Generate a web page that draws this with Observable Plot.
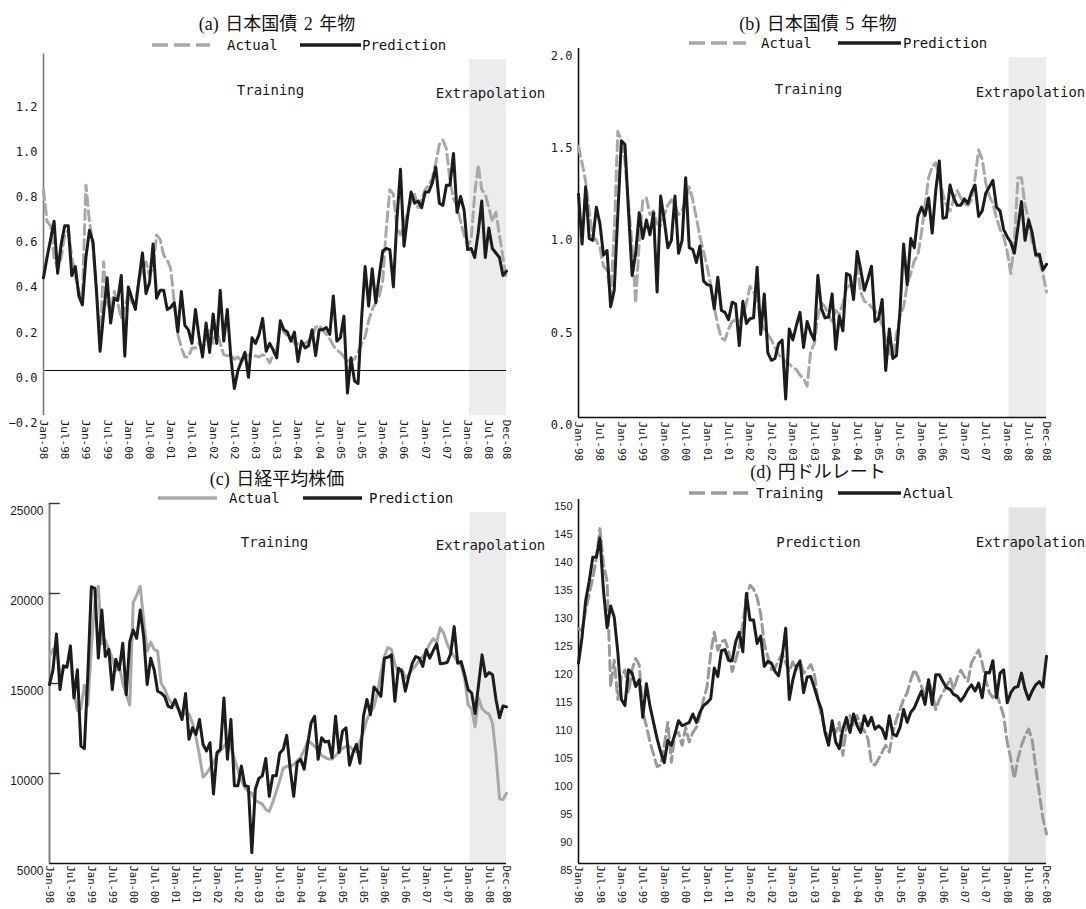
<!DOCTYPE html>
<html><head><meta charset="utf-8">
<script src="https://cdn.jsdelivr.net/npm/d3@7"></script>
<script src="https://cdn.jsdelivr.net/npm/@observablehq/plot@0.6"></script>
<style>
body{margin:0;background:#fff;}
#root{position:relative;width:1086px;height:909px;overflow:hidden;background:#fff;}
.title{position:absolute;transform:translate(-50%,-50%);white-space:nowrap;font-family:"Liberation Serif","Noto Sans CJK JP",serif;font-size:18px;color:#111;word-spacing:2px;}
.leg{position:absolute;font-family:"DejaVu Sans Mono",monospace;font-size:14px;color:#111;transform:translateY(-50%);white-space:nowrap;line-height:1;}
</style></head><body><div id="root"></div>
<script>
// ---------- data ----------
const xTickMonths = [0,6,12,18,24,30,36,42,48,54,60,66,72,78,84,90,96,102,108,114,120,126,131];
const xTickLabels = ["Jan-98","Jul-98","Jan-99","Jul-99","Jan-00","Jul-00","Jan-01","Jul-01","Jan-02","Jul-02","Jan-03","Jul-03","Jan-04","Jul-04","Jan-05","Jul-05","Jan-06","Jul-06","Jan-07","Jul-07","Jan-08","Jul-08","Dec-08"];
const extrapolationStart = 120.5;
const lastMonth = 131;

const jgb2Ticks = [-0.2,0,0.2,0.4,0.6,0.8,1.0,1.2];
const jgb5Ticks = [0,0.5,1.0,1.5,2.0];
const nikkeiTicks = [5000,10000,15000,20000,25000];
const usdjpyTicks = [85,90,95,100,105,110,115,120,125,130,135,140,145,150];

const jgb2Actual = [
0.80,0.66,0.64,0.50,0.45,0.50,0.60,0.62,0.50,0.42,
0.35,0.32,0.82,0.66,0.55,0.35,0.12,0.48,0.30,0.26,
0.35,0.30,0.23,0.28,0.34,0.30,0.30,0.40,0.45,0.48,
0.42,0.46,0.60,0.58,0.51,0.49,0.45,0.30,0.16,0.10,
0.06,0.06,0.10,0.10,0.12,0.10,0.13,0.18,0.12,0.18,
0.12,0.07,0.065,0.07,0.05,0.06,0.04,0.06,0.07,0.06,
0.065,0.06,0.07,0.06,0.034,0.07,0.10,0.20,0.17,0.15,
0.14,0.12,0.12,0.11,0.12,0.13,0.15,0.19,0.20,0.18,
0.16,0.14,0.11,0.09,0.08,0.06,0.04,0.05,0.05,0.08,
0.12,0.15,0.22,0.27,0.30,0.33,0.40,0.63,0.80,0.78,
0.63,0.60,0.64,0.70,0.75,0.78,0.72,0.76,0.80,0.82,
0.85,0.92,1.00,1.02,0.98,0.84,0.76,0.73,0.66,0.60,
0.55,0.58,0.78,0.91,0.80,0.78,0.72,0.66,0.70,0.60,
0.50,0.40];
const jgb2Prediction = [
0.41,0.50,0.58,0.66,0.43,0.56,0.64,0.64,0.42,0.46,
0.33,0.29,0.50,0.62,0.57,0.35,0.085,0.25,0.41,0.21,
0.32,0.31,0.42,0.063,0.37,0.32,0.27,0.40,0.52,0.34,
0.39,0.56,0.32,0.355,0.355,0.27,0.28,0.30,0.17,0.35,
0.20,0.18,0.12,0.27,0.15,0.06,0.21,0.08,0.25,0.12,
0.355,0.13,0.27,0.06,-0.08,0.0,0.04,0.08,-0.03,0.145,
0.12,0.16,0.23,0.085,0.12,0.09,0.056,0.22,0.18,0.17,
0.13,0.17,0.04,0.13,0.10,0.11,0.18,0.066,0.18,0.18,
0.19,0.16,0.33,0.13,0.145,0.24,-0.10,0.056,-0.047,-0.058,
0.23,0.46,0.285,0.45,0.30,0.42,0.53,0.54,0.535,0.37,
0.67,0.89,0.55,0.68,0.79,0.74,0.75,0.72,0.79,0.79,
0.83,0.90,0.74,0.73,0.82,0.82,0.96,0.70,0.77,0.71,
0.535,0.54,0.50,0.61,0.75,0.50,0.63,0.54,0.52,0.50,
0.42,0.44];

const jgb5Actual = [
1.47,1.38,1.28,1.12,0.98,0.96,0.92,0.82,0.80,0.66,
1.00,1.55,1.50,1.39,1.15,0.94,0.62,0.95,1.18,1.19,
1.10,1.12,1.05,1.04,1.10,1.15,1.18,1.15,1.10,1.12,
1.18,1.25,1.18,1.08,0.98,0.90,0.82,0.72,0.60,0.50,
0.43,0.42,0.48,0.52,0.53,0.52,0.55,0.62,0.71,0.68,
0.65,0.52,0.48,0.45,0.42,0.38,0.34,0.32,0.30,0.29,
0.27,0.26,0.23,0.21,0.17,0.36,0.40,0.55,0.62,0.60,
0.55,0.52,0.58,0.56,0.62,0.70,0.72,0.73,0.82,0.68,
0.63,0.62,0.60,0.58,0.55,0.50,0.42,0.35,0.33,0.45,
0.55,0.60,0.72,0.78,0.85,0.88,1.00,1.15,1.30,1.36,
1.38,1.30,1.21,1.15,1.12,1.18,1.23,1.19,1.16,1.15,
1.18,1.30,1.45,1.40,1.27,1.20,1.16,1.08,1.02,0.98,
0.90,0.78,0.95,1.30,1.30,1.15,1.07,0.95,0.90,0.85,
0.78,0.68];
const jgb5Prediction = [
1.21,0.94,1.25,0.97,0.96,1.14,1.05,0.88,0.905,0.60,
0.69,1.10,1.50,1.48,1.12,0.77,0.89,1.11,0.97,1.07,
0.99,1.11,0.68,1.20,1.07,0.92,0.96,1.20,0.89,0.96,
1.30,0.92,0.91,0.84,0.93,0.74,0.72,0.715,0.59,0.76,
0.58,0.57,0.53,0.625,0.615,0.39,0.63,0.51,0.535,0.54,
0.815,0.45,0.67,0.35,0.31,0.32,0.40,0.42,0.10,0.48,
0.42,0.50,0.57,0.38,0.52,0.46,0.42,0.77,0.59,0.54,
0.544,0.67,0.37,0.55,0.47,0.78,0.77,0.64,0.90,0.80,
0.69,0.75,0.82,0.52,0.535,0.64,0.255,0.48,0.32,0.336,
0.58,0.94,0.72,0.97,0.92,1.09,1.14,1.095,1.19,1.00,
1.23,1.39,1.08,1.085,1.26,1.19,1.15,1.15,1.185,1.16,
1.22,1.26,1.09,1.12,1.215,1.25,1.285,1.14,1.12,1.02,
0.98,0.95,0.89,1.03,1.17,0.96,1.07,1.00,0.88,0.885,
0.80,0.83];

const nikkeiActual = [
16500,16900,17000,15500,15800,16000,16600,14500,13500,13600,
14900,13800,17000,19500,20400,17200,17400,16900,16400,15700,
16000,15000,14400,13800,19500,19900,20400,18500,16800,17300,
16900,16800,15000,14700,14200,13900,13800,13600,13300,13300,
13300,12800,12000,11000,9800,10000,10300,10600,11000,11300,
11500,11800,11500,10800,10200,9600,9200,9000,8900,8500,
8400,8300,8000,7900,8400,9000,9600,10300,10400,10400,
10500,10700,10900,11300,11800,11700,11500,11300,11000,10900,
10800,10800,11000,11200,11400,11500,11500,11300,11200,11800,
12300,13000,13400,13700,14500,15600,16500,17000,16900,16100,
15600,15800,15300,15500,15800,16000,16300,16500,16800,17200,
17500,17300,18100,17800,17200,16800,16500,16200,16000,15300,
13800,13600,12600,14200,13600,13400,13300,12800,11000,8600,
8550,8900];
const nikkeiPrediction = [
14940,15760,17750,14660,15980,15910,17090,14200,15760,11530,
11380,15580,20370,20280,16410,19080,16500,16900,14660,16350,
15760,17240,14380,17330,17970,17510,19080,17600,14940,16410,
15760,14570,14470,14290,13740,13650,14110,13560,13000,14440,
11900,12540,12170,13000,11620,11250,11710,8860,11160,11340,
14200,10790,13000,9320,9320,10420,9320,9280,5600,9130,
9720,9870,10830,8730,9870,9870,11120,11340,12120,10240,
8730,10610,10790,10240,11620,12820,13180,10790,11990,11750,
11800,10880,13180,11160,12360,12540,10460,11160,11620,10570,
13180,14110,13270,14810,14570,14290,16410,16460,16590,14010,
15850,15670,14570,15390,16130,16500,16410,15950,16870,16410,
16830,17200,16100,16130,16170,16650,18160,16130,16220,15490,
14660,14470,13330,14940,16590,15390,15610,15490,14100,13100,
13750,13700];

const usdjpyTraining = [
126.9,126.6,130.2,133.1,136.0,139.5,144.8,138.4,135.4,116.6,
121.3,114.3,118.4,119.6,115.5,119.6,121.6,120.5,112.0,109.6,
106.7,104.5,102.3,102.6,106.1,110.2,103.1,108.1,108.4,106.1,
109.3,106.7,108.4,109.3,111.4,114.3,116.6,122.5,126.3,123.1,
124.6,124.9,123.1,119.3,121.3,123.7,127.8,132.5,134.7,134.0,
132.5,129.6,124.3,121.9,119.6,119.9,121.3,122.5,120.8,119.3,
121.0,119.6,121.3,119.0,119.6,120.5,119.0,114.3,111.4,109.0,
107.3,109.0,108.4,110.2,104.3,109.6,111.4,109.6,111.4,109.6,
108.7,107.3,102.9,102.6,103.7,104.9,106.1,104.9,108.4,110.8,
112.5,114.3,115.5,117.8,119.6,118.4,116.6,115.2,117.8,115.5,
112.5,114.3,115.5,116.6,118.1,116.1,118.1,119.5,118.4,117.5,
120.8,122.0,123.1,120.8,117.8,115.5,114.6,115.5,113.4,111.4,
106.7,103.7,100.2,103.7,106.1,107.8,109.0,107.0,102.0,97.5,
93.0,90.3];
const usdjpyActual = [
120.8,125.5,131.9,135.4,139.7,139.7,143.1,133.7,127.1,131.0,
129.0,122.8,114.3,113.2,119.6,119.0,116.6,117.8,111.1,117.1,
113.1,110.2,107.3,104.9,103.0,107.0,106.1,108.1,110.5,109.6,
109.9,110.2,111.7,110.2,112.0,113.2,113.7,114.4,119.9,118.4,
123.0,123.2,121.3,121.2,124.6,126.3,122.8,133.2,128.5,128.5,
124.3,125.6,120.2,121.1,120.8,119.3,118.5,121.9,127.0,114.3,
117.8,120.2,121.1,115.5,118.3,118.4,116.4,114.3,112.5,108.4,
106.1,110.5,106.7,105.5,109.0,111.1,108.4,111.7,109.6,108.4,
111.4,109.6,111.1,109.0,109.6,109.0,107.3,111.4,108.1,107.8,
109.3,112.5,110.2,112.0,112.8,114.3,115.8,113.4,117.8,113.4,
118.7,118.7,117.5,116.4,116.1,115.2,114.9,114.0,114.9,116.1,
116.9,115.8,117.2,114.6,119.1,119.0,121.2,114.6,119.0,119.6,
113.7,115.5,116.4,116.6,119.0,116.1,114.3,115.8,116.9,117.5,
116.5,122.0];

// ---------- styles ----------
const MONO = "DejaVu Sans Mono, Liberation Mono, monospace";
const SANS = "Liberation Sans, Arial, sans-serif";
const BLACK = "#1c1c1c";
const GRAY = "#a8a8a8";

const panels = [
  { title:"(a) 日本国債 2 年物", tx:277, ty:22,
    legendY:45, legend:[{x1:152,x2:210,color:GRAY,dash:"16,6",label:"Actual",lx:227},{x1:300,x2:361,color:BLACK,label:"Prediction",lx:362}],
    series:[{values:jgb2Actual,color:GRAY,dash:"10,5"},{values:jgb2Prediction,color:BLACK}],
    box:{left:0,top:48,width:543,height:422,ml:43,mr:37,mt:5.6,mb:54.8},
    yDomain:[-0.2,1.4], yTicks:jgb2Ticks, yFormat:d3.format(".1f"), yFont:MONO, yFontSize:12,
    xFontSize:11, xPad:4,
    shadeTop:1.376, shadeFill:"#ececec", axisColor:"#7a7a7a", axisWidth:1.6, zeroLine:true, bottomAxis:false,
    notes:[{text:"Training",dx:227,dy:36.4},{text:"Extrapolation",dx:447,dy:39.4}] },
  { title:"(b) 日本国債 5 年物", tx:818, ty:22,
    legendY:43, legend:[{x1:689,x2:746,color:GRAY,dash:"16,6",label:"Actual",lx:761},{x1:838,x2:901,color:BLACK,label:"Prediction",lx:903}],
    series:[{values:jgb5Actual,color:GRAY,dash:"10,5"},{values:jgb5Prediction,color:BLACK}],
    box:{left:543,top:40,width:543,height:430,ml:35,mr:40,mt:8,mb:53},
    yDomain:[0,2], yTicks:jgb5Ticks, yFormat:d3.format(".1f"), yFont:MONO, yFontSize:12,
    xFontSize:11, xPad:4,
    shadeTop:1.95, shadeFill:"#ececec", axisColor:"#111", axisWidth:1.6, zeroLine:false, bottomAxis:true,
    notes:[{text:"Training",dx:230,dy:41},{text:"Extrapolation",dx:452,dy:44}] },
  { title:"(c) 日経平均株価", tx:277, ty:477,
    legendY:498, legend:[{x1:158,x2:217,color:GRAY,label:"Actual",lx:229},{x1:303,x2:362,color:BLACK,label:"Prediction",lx:369}],
    series:[{values:nikkeiActual,color:GRAY},{values:nikkeiPrediction,color:BLACK}],
    box:{left:0,top:495,width:543,height:414,ml:49,mr:37,mt:8,mb:46},
    yDomain:[5000,25000], yTicks:nikkeiTicks, yFormat:d3.format("d"), yFont:SANS, yFontSize:12,
    xFontSize:10.5, xPad:2,
    shadeTop:24500, shadeFill:"#ececec", axisColor:"#808080", axisWidth:2, zeroLine:false, bottomAxis:true,
    innerTicks:[10000,15000,20000,25000],
    notes:[{text:"Training",dx:225,dy:39},{text:"Extrapolation",dx:441,dy:42}] },
  { title:"(d) 円ドルレート", tx:818, ty:470,
    legendY:493, legend:[{x1:689,x2:748,color:"#9a9a9a",dash:"16,6",label:"Training",lx:756},{x1:838,x2:901,color:BLACK,label:"Actual",lx:903}],
    series:[{values:usdjpyTraining,color:"#9a9a9a",dash:"10,5"},{values:usdjpyActual,color:BLACK}],
    box:{left:543,top:490,width:543,height:419,ml:35,mr:40,mt:9,mb:46},
    yDomain:[85,150], yTicks:usdjpyTicks, yFormat:d3.format("d"), yFont:SANS, yFontSize:11,
    xFontSize:10.5, xPad:2,
    shadeTop:148.5, shadeFill:"#e3e3e3", axisColor:"#111", axisWidth:1.6, zeroLine:false, bottomAxis:true,
    notes:[{text:"Prediction",dx:240,dy:43},{text:"Extrapolation",dx:452,dy:43}] }
];

const root = document.getElementById("root");
const NS = "http://www.w3.org/2000/svg";

function addTitle(p){
  const d = document.createElement("div");
  d.className = "title";
  d.style.left = p.tx + "px"; d.style.top = p.ty + "px";
  d.textContent = p.title;
  root.appendChild(d);
}
function addLegend(p){
  for (const it of p.legend){
    const w = it.x2 - it.x1;
    const s = document.createElementNS(NS, "svg");
    s.setAttribute("width", w); s.setAttribute("height", 8);
    s.style.position = "absolute"; s.style.left = it.x1 + "px"; s.style.top = (p.legendY - 4) + "px";
    const l = document.createElementNS(NS, "line");
    l.setAttribute("x1", 0); l.setAttribute("x2", w); l.setAttribute("y1", 4); l.setAttribute("y2", 4);
    l.setAttribute("stroke", it.color); l.setAttribute("stroke-width", 3.6);
    if (it.dash) l.setAttribute("stroke-dasharray", it.dash);
    s.appendChild(l); root.appendChild(s);
    const t = document.createElement("div");
    t.className = "leg"; t.style.left = it.lx + "px"; t.style.top = p.legendY + "px";
    t.textContent = it.label; root.appendChild(t);
  }
}

function drawPanel(p){
  const b = p.box;
  const marks = [
    Plot.rect([{x1:extrapolationStart, x2:lastMonth, y1:p.yDomain[0], y2:p.shadeTop}],
      {x1:"x1", x2:"x2", y1:"y1", y2:"y2", fill:p.shadeFill})
  ];
  if (p.zeroLine) marks.push(Plot.ruleY([0], {stroke:"#111", strokeWidth:1.2}));
  if (p.bottomAxis) marks.push(Plot.ruleY([p.yDomain[0]], {stroke:"#111", strokeWidth:1.6}));
  marks.push(Plot.ruleX([0], {stroke:p.axisColor, strokeWidth:p.axisWidth}));
  if (p.innerTicks) marks.push(Plot.ruleY(p.innerTicks.map(t => ({y:t, x1:0, x2:3.1})), {y:"y", x1:"x1", x2:"x2", stroke:"#333", strokeWidth:1.4}));
  for (const s of p.series){
    marks.push(Plot.line(s.values.map((v, i) => ({m:i, v})), {
      x:"m", y:"v", stroke:s.color, strokeWidth:3, strokeDasharray:s.dash || null, strokeLinejoin:"round"
    }));
  }
  for (const n of p.notes){
    marks.push(Plot.text([n.text], {text:d => d, frameAnchor:"top-left", dx:n.dx, dy:n.dy,
      textAnchor:"middle", lineAnchor:"middle", fontFamily:MONO, fontSize:14, fill:"#1a1a1a"}));
  }
  const svg = Plot.plot({
    width:b.width, height:b.height,
    marginLeft:b.ml, marginRight:b.mr, marginTop:b.mt, marginBottom:b.mb,
    style:{background:"transparent", overflow:"visible", color:"#1a1a1a"},
    x:{type:"linear", domain:[0,lastMonth], ticks:xTickMonths,
       tickFormat:d => xTickLabels[xTickMonths.indexOf(d)], tickRotate:90, tickSize:0, tickPadding:p.xPad, label:null},
    y:{domain:p.yDomain, ticks:p.yTicks, tickFormat:p.yFormat, tickSize:0, tickPadding:6, label:null},
    marks
  });
  svg.querySelectorAll('g[aria-label^="x-axis"] text').forEach(t => {
    t.style.fontFamily = MONO; t.style.fontSize = p.xFontSize + "px"; t.style.fill = "#1a1a1a";
  });
  svg.querySelectorAll('g[aria-label^="y-axis"] text').forEach(t => {
    t.style.fontFamily = p.yFont; t.style.fontSize = p.yFontSize + "px"; t.style.fill = "#1a1a1a";
    t.setAttribute("dy", "0.62em");
  });
  const wrap = document.createElement("div");
  wrap.style.position = "absolute"; wrap.style.left = b.left + "px"; wrap.style.top = b.top + "px";
  wrap.appendChild(svg);
  root.appendChild(wrap);
}

for (const p of panels){ drawPanel(p); }
for (const p of panels){ addTitle(p); addLegend(p); }
</script>
</body></html>
